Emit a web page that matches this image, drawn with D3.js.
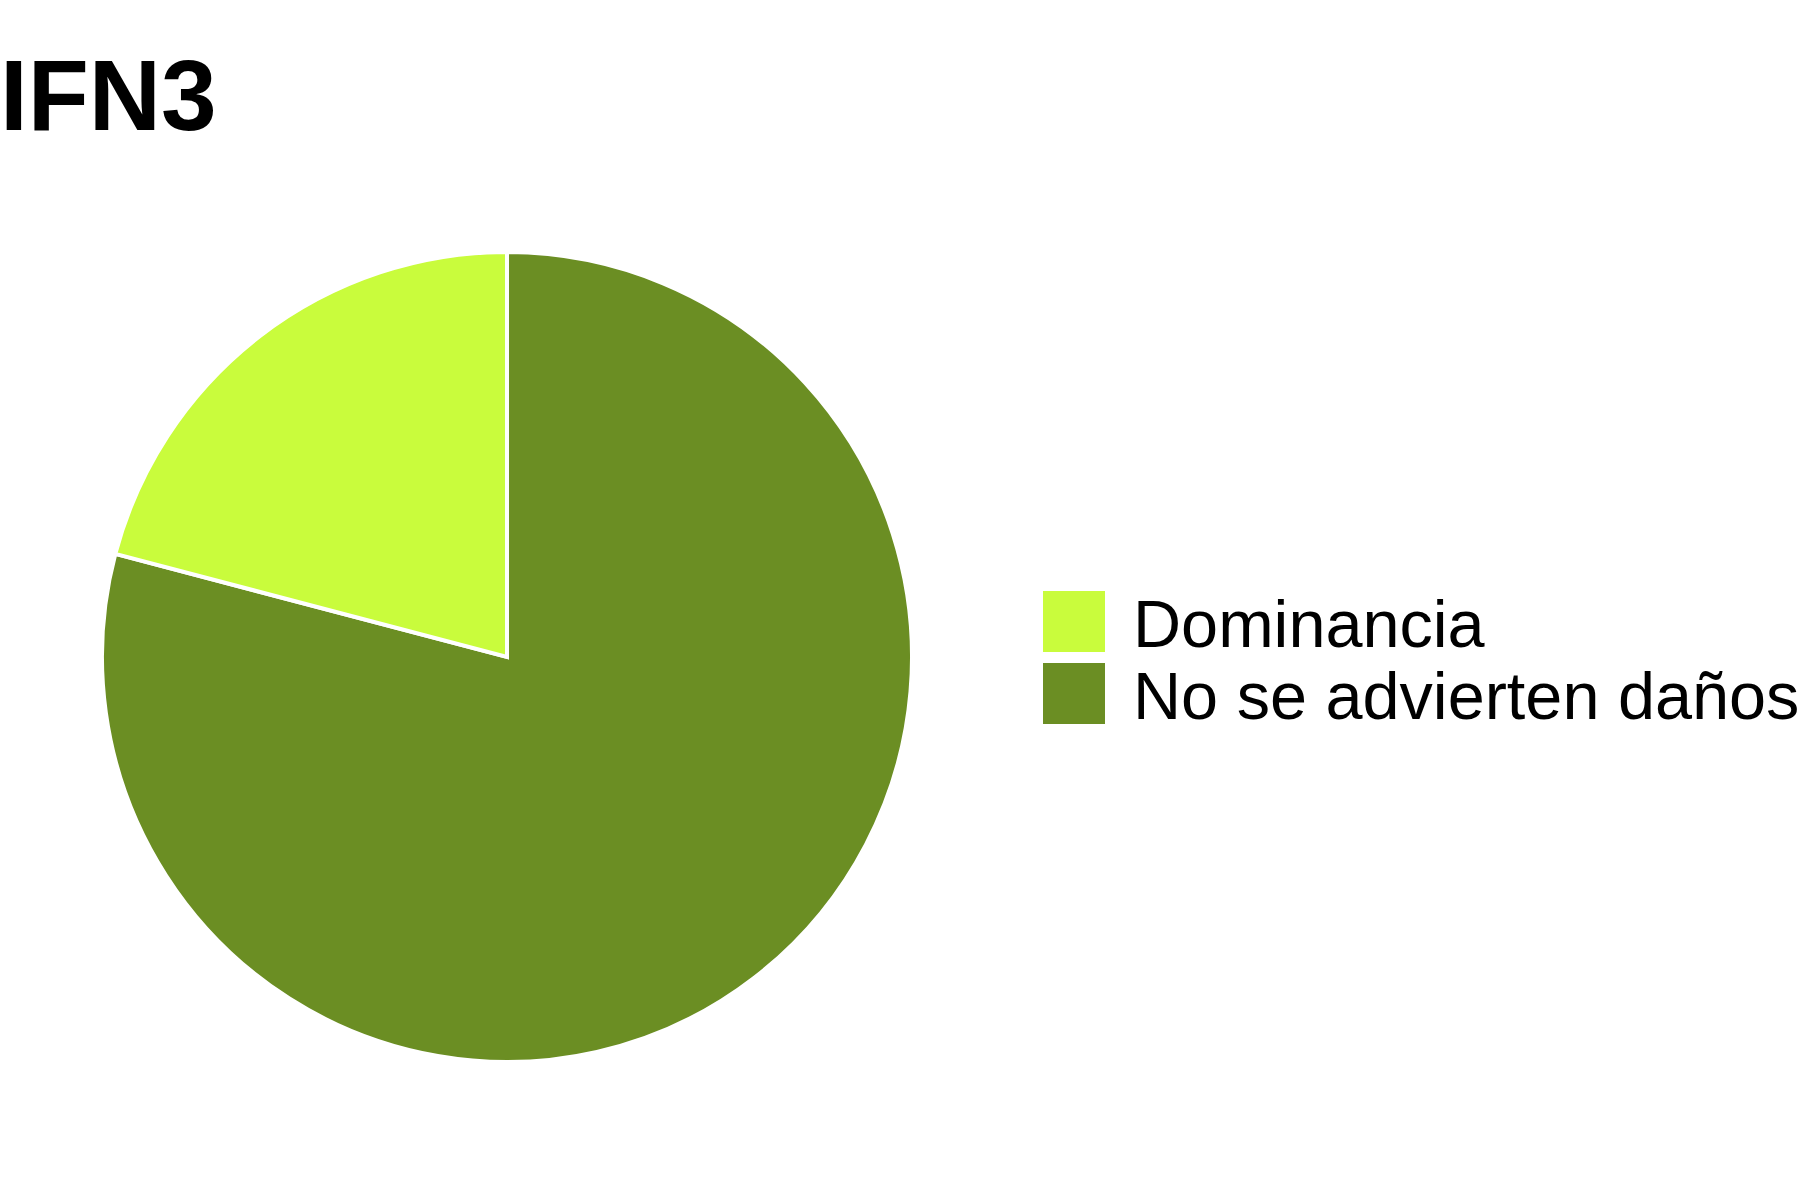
<!DOCTYPE html>
<html>
<head>
<meta charset="utf-8">
<script src="https://cdn.jsdelivr.net/npm/d3@7"></script>
<style>
  html, body { margin: 0; padding: 0; background: #ffffff; }
  svg { display: block; }
</style>
</head>
<body>
<svg id="chart" width="1800" height="1200"></svg>
<script>
const title = "IFN3";
const categories = ["Dominancia", "No se advierten daños"];
const values = [20.9, 79.1];
const colors = ["#C9FC3C", "#6B8E23"];

const svg = d3.select("#chart");
const W = 1800, H = 1200;
svg.append("rect").attr("width", W).attr("height", H).attr("fill", "#ffffff");

svg.append("text")
  .attr("x", 0).attr("y", 130)
  .attr("font-family", "'Liberation Sans', Arial, sans-serif")
  .attr("font-weight", "bold")
  .attr("font-size", 100)
  .attr("fill", "#000000")
  .text(title);

const data = categories.map((c, i) => ({ cat: c, value: values[i], color: colors[i] }));

const color = d3.scaleOrdinal().domain(categories).range(colors);

// Pie: the large slice runs clockwise from 12 o'clock, the small one closes the circle
const pie = d3.pie().sort(null).value(d => d.value);
const arcs = pie(data.slice().reverse());
const arc = d3.arc().innerRadius(0).outerRadius(405);

const g = svg.append("g").attr("transform", "translate(507,657)");
g.selectAll("path")
  .data(arcs)
  .join("path")
  .attr("d", arc)
  .attr("fill", d => color(d.data.cat))
  .attr("stroke", "#ffffff")
  .attr("stroke-width", 4)
  .attr("stroke-linejoin", "miter");

// Legend
const legend = svg.append("g").attr("transform", "translate(1043,591)");
const item = legend.selectAll("g")
  .data(categories)
  .join("g")
  .attr("transform", (d, i) => `translate(0,${i * 72})`);
item.append("rect")
  .attr("width", 62).attr("height", 61)
  .attr("fill", d => color(d));
item.append("text")
  .attr("x", 90).attr("y", 56)
  .attr("font-family", "'Liberation Sans', Arial, sans-serif")
  .attr("font-size", 66.6)
  .attr("fill", "#000000")
  .text(d => d);
</script>
</body>
</html>
